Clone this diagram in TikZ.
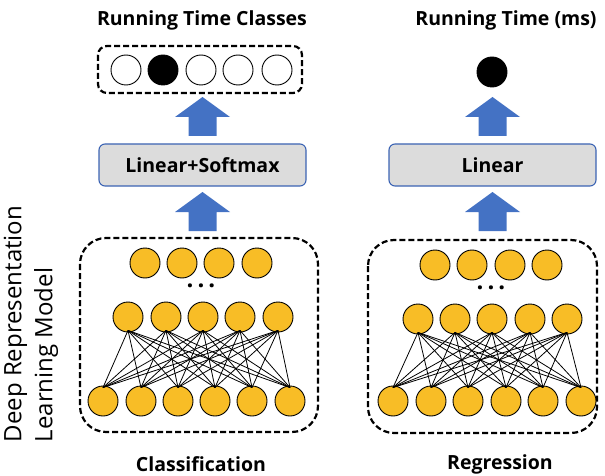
\documentclass[tikz,border=0pt]{standalone}
\usepackage{fontspec}
\setmainfont{Open Sans}
\usetikzlibrary{positioning}
\definecolor{unitgold}{RGB}{248,189,38}
\definecolor{arrowblue}{RGB}{68,114,196}
\definecolor{boxedge}{RGB}{60,100,180}
\definecolor{boxfill}{RGB}{220,220,220}
\tikzset{
  x=1pt, y=-1pt,
  unit/.style={circle, draw=black, line width=0.9pt, fill=unitgold, minimum size=30pt, inner sep=0pt},
  outunit/.style={circle, draw=black, line width=0.9pt, fill=white, minimum size=30pt, inner sep=0pt},
  hotunit/.style={circle, draw=black, line width=0.9pt, fill=black, minimum size=30pt, inner sep=0pt},
  layerbox/.style={draw=boxedge, line width=1.1pt, fill=boxfill, rounded corners=6pt,
    minimum width=207pt, minimum height=42pt, font=\fontsize{19.5}{22}\selectfont\bfseries},
  dashbox/.style={draw=black, line width=2.2pt, dash pattern=on 6pt off 3pt},
  title/.style={font=\fontsize{19.5}{22}\selectfont\bfseries},
  ellipsis/.style={font=\fontsize{24}{24}\selectfont\bfseries, inner sep=0pt},
  link/.style={draw=black, line width=0.8pt},
  blockarrow/.pic={
    \fill[arrowblue] (0,0) -- (27.5,20) -- (14,20) -- (14,39) -- (-14,39) -- (-14,20) -- (-27.5,20) -- cycle;
  },
}
\begin{document}
\begin{tikzpicture}
\useasboundingbox (0,0) rectangle (605,476);

% ---------- classification branch ----------
\node[title] (ctitle) at (202,20) {Running Time Classes};
\draw[dashbox, rounded corners=9pt] (98,46) rectangle (302,93);
\foreach \i/\x in {1/126,2/163,3/201,4/238,5/277}{
  \ifnum\i=2
    \node[hotunit] (co\i) at (\x,70) {};
  \else
    \node[outunit] (co\i) at (\x,70) {};
  \fi
}
\pic at (202.5,97) {blockarrow};
\node[layerbox] (chead) at (202.5,165) {Linear+Softmax};
\pic at (202.5,192) {blockarrow};

\draw[dashbox, rounded corners=26pt] (80,238) rectangle (318,432);
\foreach \i/\x in {1/145,2/182,3/219,4/257}{
  \node[unit] (ct\i) at (\x,263) {};
}
\node[ellipsis] (cdots) at (201,286) {.\,.\,.};
\foreach \i/\x in {1/128,2/166,3/203,4/240,5/278}{
  \node[unit] (cm\i) at (\x,317) {};
}
\foreach \i/\x in {1/103,2/141,3/178,4/215,5/252,6/290}{
  \node[unit] (cb\i) at (\x,401) {};
}
\foreach \i in {1,...,5}{
  \foreach \j in {1,...,6}{
    \draw[link] ([yshift=2pt]cm\i.south) -- ([yshift=-2pt]cb\j.north);
  }
}
\node[title] (clabel) at (201,464) {Classification};

% ---------- regression branch ----------
\node[title] (rtitle) at (506,20) {Running Time (ms)};
\node[hotunit] (ro) at (492,72) {};
\pic at (492.5,97) {blockarrow};
\node[layerbox] (rhead) at (492.5,165) {Linear};
\pic at (492.5,192) {blockarrow};

\draw[dashbox, rounded corners=26pt] (368,240) rectangle (597,433);
\foreach \i/\x in {1/435,2/472,3/510,4/547}{
  \node[unit] (rt\i) at (\x,265) {};
}
\node[ellipsis] (rdots) at (491,288) {.\,.\,.};
\foreach \i/\x in {1/418,2/455,3/492,4/530,5/567}{
  \node[unit] (rm\i) at (\x,319) {};
}
\foreach \i/\x in {1/393,2/431,3/468,4/506,5/543,6/581}{
  \node[unit] (rb\i) at (\x,401) {};
}
\foreach \i in {1,...,5}{
  \foreach \j in {1,...,6}{
    \draw[link] ([yshift=2pt]rm\i.south) -- ([yshift=-2pt]rb\j.north);
  }
}
\node[title] (rlabel) at (500,464) {Regression};

% ---------- side caption ----------
\node[rotate=90, align=left, font=\fontsize{24}{31}\selectfont, anchor=center] (model) at (31,324)
  {Deep Representation\\Learning Model};
\end{tikzpicture}
\end{document}
